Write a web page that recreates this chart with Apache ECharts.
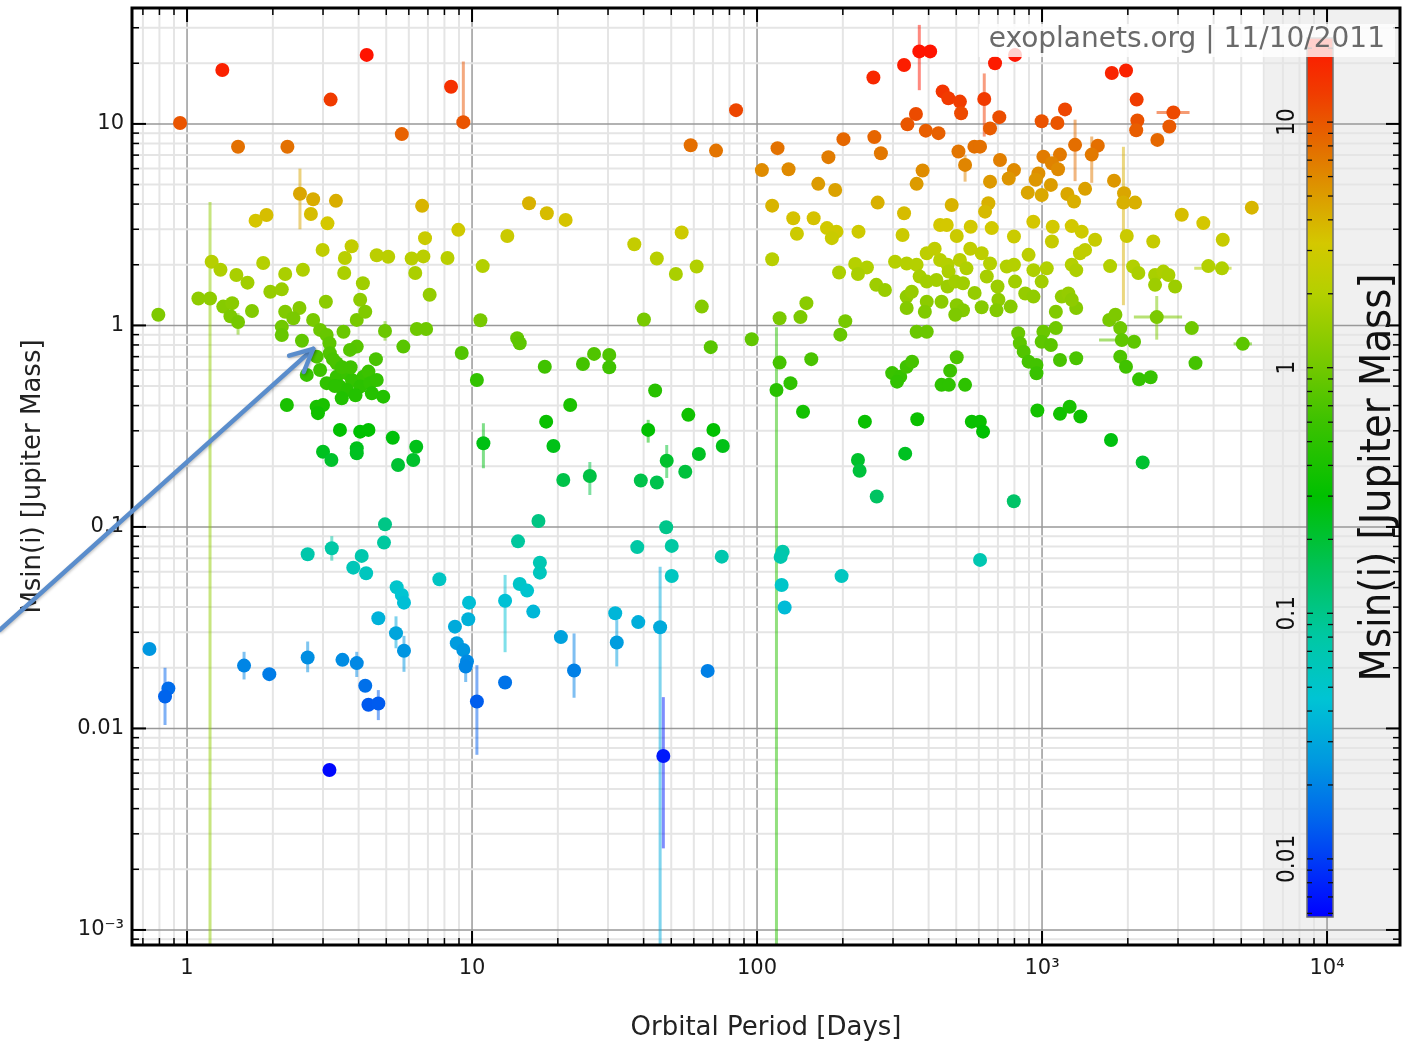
<!DOCTYPE html>
<html>
<head>
<meta charset="utf-8">
<script src="https://cdn.jsdelivr.net/npm/echarts@6/dist/echarts.min.js"></script>
<style>
html,body{margin:0;padding:0;background:#ffffff;}
#chart{width:1403px;height:1052px;}
</style>
</head>
<body>
<div id="chart"></div>
<script>
// ---------------- DATA (period in days, Msin(i) in Jupiter masses) ----------------
const planetsShort = [
[0.945,10.1],[1.33,18.5],[4.27,22],[3.19,13.2],[5.67,8.9],[1.51,7.7],[2.25,7.7],[8.44,15.3],[9.32,10.2],
[2.49,4.5],[2.77,4.23],[3.33,4.15],[2.72,3.57],[3.11,3.21],[1.74,3.31],[1.9,3.53],[6.68,3.92],[8.95,2.98],[8.2,2.16],[6.84,2.71],[7.1,1.42],[9.2,0.73],
[0.793,1.13],[1.096,1.36],[1.204,1.36],[1.22,2.07],[1.31,1.89],[1.49,1.78],[1.63,1.63],[1.85,2.04],[2.21,1.8],[2.55,1.89],[1.96,1.47],[2.15,1.51],[1.34,1.24],[1.44,1.29],[1.42,1.11],[1.51,1.04],[1.69,1.18],[2.21,1.17],[2.48,1.22],[2.36,1.085],[2.15,0.986],[2.15,0.897],[2.77,1.065],[3.07,1.31],[2.53,0.84],[2.93,0.95],[3.09,0.897],[3.16,0.816],[2.85,0.70],[3.17,0.728],[3.35,0.649],[3.54,0.93],[3.94,1.065],[4.05,1.34],[4.14,1.62],[4.22,1.17],[3.94,0.785],[3.73,0.756],[3.58,2.16],[3.56,1.82],
[2.63,0.568],[3.09,0.517],[2.93,0.601],[3.35,0.557],[3.64,0.579],[3.79,0.536],[3.44,0.497],[3.64,0.478],[3.49,0.435],[4.16,0.557],[4.33,0.59],[4.05,0.497],[4.39,0.516],[4.63,0.536],[4.45,0.461],[4.6,0.68],[4.95,0.939],[5.74,0.785],[4.88,0.443],[6.4,0.96],[6.9,0.96],
[3.25,0.68],[3.5,0.62],[3.3,0.5],[3.9,0.45],[3.75,0.62],
[2.24,0.403],[2.85,0.395],[3.0,0.403],[2.88,0.367],[3.44,0.303],[4.05,0.297],[4.33,0.303],[5.27,0.277],[3.0,0.236],[3.21,0.215],[3.94,0.246],[3.94,0.232],[5.5,0.203],[6.37,0.25],[6.22,0.215],
[4.63,2.23],[5.08,2.19],[6.14,2.15],[6.75,2.2],[6.32,1.82],[3.78,2.47],[2.99,2.37],
[7.68,0.055],[9.76,0.0421],[9.7,0.0348],[8.71,0.032],[8.84,0.0265],[9.32,0.0245],[9.6,0.0215],[9.5,0.0203],
[0.738,0.0248],[0.86,0.0158],[0.837,0.0144],[1.585,0.0205],[1.944,0.0186],[2.65,0.0225],[3.51,0.0219],[3.94,0.0211],[4.22,0.0163],[4.33,0.0131],[4.69,0.0133],[3.16,0.00622],
[2.65,0.0732],[3.22,0.0784],[4.95,0.103],[4.91,0.0836],[4.1,0.0718],[3.83,0.0628],[4.25,0.0589],[5.44,0.0502],[5.67,0.046],[5.77,0.0421],[4.69,0.0352],[5.41,0.0297],[5.77,0.0243]
];

const planetsMid = [
[10.9,1.97],[10.7,1.06],[15.85,4.04],[18.3,3.6],[21.3,3.34],[13.3,2.78],[37.1,2.53],[44.5,2.15],[54.4,2.89],[51.9,1.8],[61.4,1.96],[64,1.24],[40.1,1.07],[58.5,7.84],[71.8,7.37],[84.4,11.7],
[10.4,0.536],[14.4,0.864],[14.7,0.816],[18.0,0.624],[24.5,0.644],[26.8,0.722],[30.3,0.714],[30.3,0.62],[22.1,0.403],[18.2,0.333],[19.3,0.252],[10.96,0.26],[20.9,0.171],[25.9,0.179],[43.9,0.475],[41.5,0.303],[57.4,0.36],[70.3,0.303],[75.8,0.252],[62.5,0.23],[48.2,0.213],[56.0,0.188],[39.1,0.17],[44.5,0.166],[68.8,0.78],[95.8,0.854],
[17.1,0.107],[14.5,0.0848],[48.0,0.0997],[38.0,0.0794],[50.2,0.0805],[75.2,0.0712],[17.3,0.0593],[17.3,0.0665],[14.7,0.0521],[15.6,0.0483],[16.4,0.038],
[10.4,0.0136],[13.06,0.043],[13.06,0.0169],[20.5,0.0284],[22.8,0.0194],[31.8,0.0373],[32.2,0.0267],[38.3,0.0337],[45.7,0.0318],[46.9,0.0073],[50.2,0.0571],[67.1,0.0193]
];

const planetsLong = [
[104,5.9],[256,17.0],[328,19.6],[371,22.9],[405,22.9],[684,20],[804,22],
[448,14.5],[469,13.4],[515,12.9],[520,11.3],[627,13.3],[708,10.8],[657,9.5],[361,11.2],[337,9.95],[391,9.26],[433,9.0],
[201,8.4],[258,8.6],[272,7.15],[118,7.58],[129,5.96],[178,6.84],[164,5.04],[188,4.7],[113,3.93],[134,3.4],[158,3.4],[138,2.85],[176,3.04],[190,2.92],[183,2.71],[227,2.92],[265,4.07],[363,5.04],[381,5.87],[328,3.6],[324,2.81],
[509,7.29],[537,6.26],[579,7.71],[606,7.71],[482,3.96],[439,3.15],[463,3.15],[657,5.17],[648,4.04],[712,6.62],[631,3.67],[562,3.09],[666,3.04],[502,2.78],
[1757,17.9],[1971,18.4],[2148,13.2],[1204,11.8],[997,10.3],[1132,10.1],[2160,10.4],[2140,9.3],[2890,11.4],[2797,9.7],[2539,8.33],
[1306,7.87],[1569,7.8],[1494,7.04],[1011,6.88],[1156,7.04],[1083,6.38],[1138,5.96],[797,5.9],[764,5.36],[971,5.68],[950,5.28],[1074,4.98],[891,4.56],[997,4.44],[1416,4.76],[1227,4.49],[1295,4.12],[1789,5.23],[1940,4.53],[1930,4.07],[2120,4.07],
[3092,3.54],[3681,3.22],[5445,3.84],[4306,2.66],[2456,2.61],[1983,2.78],[1535,2.66],[1271,3.11],[1378,2.92],[1090,3.09],[932,3.27],[1083,2.61],[797,2.76],
[113,2.13],[194,1.83],[221,2.02],[243,1.94],[226,1.8],[262,1.59],[281,1.5],[305,2.07],[335,2.03],[363,2.0],[394,2.28],[439,2.11],[466,2.0],[515,2.11],[543,1.92],[614,2.28],[657,2.03],[752,1.96],
[420,2.4],[560,2.4],[470,1.85],[580,1.45],[640,1.75],
[372,1.75],[394,1.65],[426,1.68],[466,1.56],[496,1.65],[528,1.62],[335,1.39],[349,1.47],[335,1.22],[394,1.31],[388,1.17],[444,1.31],[502,1.26],[528,1.19],[496,1.13],[614,1.23],[703,1.34],[692,1.19],[698,1.56],
[120,1.086],[142,1.1],[149,1.29],[204,1.05],[196,0.90],[363,0.93],[394,0.93],
[120,0.654],[131,0.517],[117,0.478],[155,0.68],[145,0.373],[239,0.333],[226,0.215],[229,0.19],
[298,0.58],[318,0.557],[335,0.624],[350,0.661],[310,0.526],[365,0.342],[331,0.231],[444,0.507],[471,0.507],[476,0.596],[502,0.695],[537,0.507],[567,0.333],[605,0.333],[621,0.297],
[776,1.24],[797,2.0],[897,2.24],[933,1.88],[1039,1.92],[804,1.65],[873,1.44],[933,1.39],[997,1.65],[1271,2.0],[1318,1.88],[1358,2.28],[1416,2.37],[1733,1.97],[2087,1.96],[2177,1.82],[2492,1.78],[2665,1.85],[2777,1.78],[2492,1.59],[2930,1.56],[3833,1.97],[4279,1.92],
[1173,1.39],[1237,1.44],[1318,1.22],[1118,1.17],[1271,1.34],[1721,1.065],[1809,1.13],[2526,1.1],[3352,0.97],
[825,0.915],[836,0.816],[862,0.741],[1011,0.93],[1118,0.97],[997,0.83],[1074,0.8],[897,0.661],[956,0.636],[956,0.579],[1156,0.674],[1318,0.687],[1881,0.97],[1905,0.847],[1881,0.70],[1970,0.624],[2103,0.83],[2190,0.54],[2405,0.553],[3455,0.65],[5063,0.81],
[963,0.378],[1156,0.364],[1250,0.395],[1363,0.353],[1746,0.27],[2255,0.209],
[263,0.1417],[796,0.134],[123,0.0754],[121,0.071],[122,0.0515],[125,0.0398],[198,0.057],[606,0.0686]
];

// vertical (mass) error bars: [period, mass, lowMass, highMass]
const massErrorBars = [
[9.32,10.2,9.5,20.4],[2.49,4.5,3.0,6.0],[1.204,1.36,0.0001,4.1],[1.51,1.04,0.9,1.15],[4.95,0.939,0.84,1.05],
[10.96,0.26,0.1955,0.327],[25.9,0.179,0.144,0.21],[41.5,0.303,0.262,0.34],[48.2,0.213,0.175,0.255],
[10.4,0.0136,0.0074,0.0206],[13.06,0.043,0.0239,0.0578],[22.8,0.0194,0.0142,0.0296],[32.2,0.0267,0.0203,0.0345],[45.7,0.0318,0.0001,0.0635],[46.9,0.0073,0.00254,0.0143],
[0.837,0.0144,0.0104,0.02],[5.77,0.0243,0.0191,0.0288],[3.22,0.0784,0.068,0.09],[9.5,0.0203,0.017,0.024],[2.65,0.0225,0.019,0.027],[1.585,0.0205,0.0175,0.024],[3.94,0.0211,0.018,0.024],[4.69,0.0133,0.011,0.0155],[5.41,0.0297,0.025,0.036],
[371,22.9,14.7,31],[627,13.3,8.65,17.8],[537,6.26,5.17,7.0],[1306,7.87,5.2,10.5],[1494,7.04,5.1,8.66],[1930,4.07,1.26,7.7],[117,0.478,0.0001,0.98],[2526,1.1,0.85,1.4]
];
// horizontal (period) error bars: [period, mass, lowPeriod, highPeriod]
const periodErrorBars = [[2890,11.4,2523,3293],[2526,1.1,2100,3100],[4279,1.92,3420,4625],[1905,0.847,1585,2185],[5063,0.81,4700,5450]];

// tick labels
const xTickExponents = [0,1,2,3,4];
const xTickLabels = ['1','10','100','10³','10⁴'];
const yTickExponents = [-3,-2,-1,0,1];
const yTickLabels = ['10⁻³','0.01','0.1','1','10'];
const cbTickExponents = [-2,-1,0,1];
const cbTickLabels = ['0.01','0.1','1','10'];

// colour scale (mass -> colour)
const colorStopsMass = [
[0.0058,'#0000ff'],[0.009,'#0030f8'],[0.015,'#0068ec'],[0.025,'#0098e0'],[0.045,'#00c4d4'],[0.08,'#00c8a4'],
[0.15,'#00c25a'],[0.3,'#00c000'],[0.6,'#3cc200'],[1.0,'#72c800'],[2.0,'#b4d000'],[3.2,'#d4c800'],
[5.0,'#dc9c00'],[8.0,'#e46c00'],[13,'#f03c00'],[22,'#ff1400']
];

// axis ranges
const X_MIN = 0.641, X_MAX = 18030, Y_MIN = 0.000842, Y_MAX = 37.6;
const CB_MIN = 0.0058, CB_MAX = 22;
const BAND_START = 6060;
const arrowFrom = [0.22, 0.0308];
const arrowTo = [2.77, 0.765];

// ---------------- helpers ----------------
const FONT = "'DejaVu Sans', sans-serif";
const FONT_C = "'DejaVu Sans Condensed', 'DejaVu Sans', sans-serif";
const lg = v => Math.log10(v);
function hexToRgb(h){return [parseInt(h.slice(1,3),16),parseInt(h.slice(3,5),16),parseInt(h.slice(5,7),16)];}
function massColor(m, alpha){
  const t = lg(m), s = colorStopsMass;
  let c;
  if (t <= lg(s[0][0])) c = hexToRgb(s[0][1]);
  else if (t >= lg(s[s.length-1][0])) c = hexToRgb(s[s.length-1][1]);
  else {
    for (let i=0;i<s.length-1;i++){
      const a = lg(s[i][0]), b = lg(s[i+1][0]);
      if (t >= a && t <= b){
        const f = (t-a)/(b-a), c1 = hexToRgb(s[i][1]), c2 = hexToRgb(s[i+1][1]);
        c = c1.map((v,k)=>Math.round(v+(c2[k]-v)*f));
        break;
      }
    }
  }
  return alpha == null ? 'rgb('+c.join(',')+')' : 'rgba('+c.join(',')+','+alpha+')';
}
const cbGradient = {
  type:'linear', x:0, y:0, x2:0, y2:1,
  colorStops: colorStopsMass.map(([m,c]) => ({offset: 1-(lg(m)-lg(CB_MIN))/(lg(CB_MAX)-lg(CB_MIN)), color:c})).reverse()
};
function logTicks(lo, hi){
  const out = [];
  for (let e=Math.floor(lg(lo)); e<=Math.ceil(lg(hi)); e++){
    for (let k=1;k<=9;k++){
      const v = k*Math.pow(10,e);
      if (v > lo*1.0001 && v < hi/1.0001) out.push([v, k===1?1:0]);
    }
  }
  return out;
}
function powerLabel(exps, labels){
  return function(v){
    const e = lg(v), r = Math.round(e);
    if (Math.abs(e-r) > 1e-6) return '';
    const i = exps.indexOf(r);
    return i < 0 ? '' : labels[i];
  };
}
const xTickData = logTicks(X_MIN, X_MAX).map(([v,m]) => [v, 1, m]);
const yTickData = logTicks(Y_MIN, Y_MAX).map(([v,m]) => [1, v, m]);
const cbTickData = logTicks(CB_MIN, CB_MAX).map(([v,m]) => [0.5, v, m]);
const allPlanets = planetsShort.concat(planetsMid, planetsLong);

// ---------------- chart ----------------
const chart = echarts.init(document.getElementById('chart'), null, {renderer:'canvas'});
const option = {
  animation:false,
  backgroundColor:'#ffffff',
  title:{
    text:'exoplanets.org | 11/10/2011', right:8, top:24, padding:[2,10,3,10],
    backgroundColor:'rgba(255,255,255,0.8)',
    textStyle:{fontSize:28, fontWeight:'normal', color:'#6a6a6a', fontFamily:FONT},
    z:60
  },
  grid:[
    {left:132, top:8, width:1268, height:937, show:true, backgroundColor:'transparent', borderColor:'#000', borderWidth:3, z:6},
    {left:1307, top:38, width:26, height:879, show:true, backgroundColor:cbGradient, borderColor:'#6e6e6e', borderWidth:1.5, z:7}
  ],
  xAxis:[
    {gridIndex:0, type:'log', logBase:10, min:X_MIN, max:X_MAX,
     axisLine:{show:false}, axisTick:{show:false}, splitLine:{show:false},
     axisLabel:{fontSize:21, color:'#1a1a1a', margin:13, fontFamily:FONT, formatter:powerLabel(xTickExponents, xTickLabels)},
     name:'Orbital Period [Days]', nameLocation:'middle', nameGap:70,
     nameTextStyle:{fontSize:26, color:'#222', fontFamily:FONT}},
    {gridIndex:1, type:'value', min:0, max:1, show:false}
  ],
  yAxis:[
    {gridIndex:0, type:'log', logBase:10, min:Y_MIN, max:Y_MAX,
     axisLine:{show:false}, axisTick:{show:false}, splitLine:{show:false},
     axisLabel:{fontSize:21, color:'#1a1a1a', margin:8, fontFamily:FONT, formatter:powerLabel(yTickExponents, yTickLabels)},
     name:'Msin(i) [Jupiter Mass]', nameLocation:'middle', nameGap:86,
     nameTextStyle:{fontSize:26, color:'#222', fontFamily:FONT}},
    {gridIndex:1, type:'log', logBase:10, min:CB_MIN, max:CB_MAX, position:'left', z:8,
     axisLine:{show:false}, axisTick:{show:false}, splitLine:{show:false},
     axisLabel:{rotate:90, margin:7, fontSize:24, color:'#111', fontFamily:FONT_C, formatter:powerLabel(cbTickExponents, cbTickLabels)}},
    {gridIndex:1, type:'log', logBase:10, min:CB_MIN, max:CB_MAX, position:'right', z:8,
     axisLine:{show:false}, axisTick:{show:false}, splitLine:{show:false}, axisLabel:{show:false},
     name:'Msin(i) [Jupiter Mass]', nameLocation:'middle', nameGap:24,
     nameTextStyle:{fontSize:43, color:'#111', fontFamily:FONT_C}}
  ],
  series:[
    // vertical grid lines
    {type:'custom', name:'gridX', xAxisIndex:0, yAxisIndex:0, z:1, silent:true, data:xTickData, encode:{x:0,y:1},
     renderItem:function(p, api){
       const cs = p.coordSys, major = api.value(2) === 1;
       const x = api.coord([api.value(0), 1])[0];
       return {type:'line', shape:{x1:x, y1:cs.y, x2:x, y2:cs.y+cs.height},
               style:{stroke: major ? '#999999' : '#e5e5e5', lineWidth: major ? 1.5 : 2}};
     }},
    // horizontal grid lines
    {type:'custom', name:'gridY', xAxisIndex:0, yAxisIndex:0, z:1, silent:true, data:yTickData, encode:{x:0,y:1},
     renderItem:function(p, api){
       const cs = p.coordSys, major = api.value(2) === 1;
       const y = api.coord([1, api.value(1)])[1];
       return {type:'line', shape:{x1:cs.x, y1:y, x2:cs.x+cs.width, y2:y},
               style:{stroke: major ? '#999999' : '#e5e5e5', lineWidth: major ? 1.5 : 2}};
     }},
    // grey band behind the colour bar
    {type:'line', name:'band', xAxisIndex:0, yAxisIndex:0, z:2, silent:true, data:[],
     markArea:{silent:true, itemStyle:{color:'rgba(238,238,238,0.9)'}, data:[[{xAxis:BAND_START},{xAxis:X_MAX}]]}},
    // vertical error bars
    {type:'custom', name:'errMass', xAxisIndex:0, yAxisIndex:0, z:3, silent:true, data:massErrorBars, encode:{x:0,y:1},
     renderItem:function(p, api){
       const cs = p.coordSys;
       const a = api.coord([api.value(0), api.value(2)]);
       const b = api.coord([api.value(0), api.value(3)]);
       const clampY = y => Math.min(Math.max(y, cs.y), cs.y+cs.height);
       return {type:'line', shape:{x1:a[0], y1:clampY(a[1]), x2:b[0], y2:clampY(b[1])},
               style:{stroke: massColor(api.value(1), 0.5), lineWidth:3}};
     }},
    // horizontal error bars
    {type:'custom', name:'errPeriod', xAxisIndex:0, yAxisIndex:0, z:3, silent:true, data:periodErrorBars, encode:{x:0,y:1},
     renderItem:function(p, api){
       const a = api.coord([api.value(2), api.value(1)]);
       const b = api.coord([api.value(3), api.value(1)]);
       return {type:'line', shape:{x1:a[0], y1:a[1], x2:b[0], y2:b[1]},
               style:{stroke: massColor(api.value(1), 0.55), lineWidth:3}};
     }},
    // planets
    {type:'scatter', name:'planets', xAxisIndex:0, yAxisIndex:0, z:4, silent:true, data:allPlanets,
     symbol:'circle', symbolSize:14,
     itemStyle:{color:function(p){return massColor(p.data[1]);}, opacity:1}},
    // axis ticks on all four sides of the main frame
    {type:'custom', name:'ticksX', xAxisIndex:0, yAxisIndex:0, z:5, silent:true, data:xTickData, encode:{x:0,y:1},
     renderItem:function(p, api){
       const cs = p.coordSys, major = api.value(2) === 1;
       const x = api.coord([api.value(0), 1])[0];
       const L = major ? 14 : 7, w = major ? 2 : 1.5;
       const top = cs.y, bot = cs.y + cs.height;
       return {type:'group', children:[
         {type:'line', shape:{x1:x, y1:bot, x2:x, y2:bot-L}, style:{stroke:'#000', lineWidth:w}},
         {type:'line', shape:{x1:x, y1:top, x2:x, y2:top+L}, style:{stroke:'#000', lineWidth:w}}
       ]};
     }},
    {type:'custom', name:'ticksY', xAxisIndex:0, yAxisIndex:0, z:5, silent:true, data:yTickData, encode:{x:0,y:1},
     renderItem:function(p, api){
       const cs = p.coordSys, major = api.value(2) === 1;
       const y = api.coord([1, api.value(1)])[1];
       const L = major ? 14 : 7, w = major ? 2 : 1.5;
       const left = cs.x, right = cs.x + cs.width;
       return {type:'group', children:[
         {type:'line', shape:{x1:left, y1:y, x2:left+L, y2:y}, style:{stroke:'#000', lineWidth:w}},
         {type:'line', shape:{x1:right, y1:y, x2:right-L, y2:y}, style:{stroke:'#000', lineWidth:w}}
       ]};
     }},
    // colour bar ticks
    {type:'custom', name:'cbTicks', xAxisIndex:1, yAxisIndex:1, z:9, silent:true, data:cbTickData, encode:{x:0,y:1},
     renderItem:function(p, api){
       const cs = p.coordSys, major = api.value(2) === 1;
       const y = api.coord([0.5, api.value(1)])[1];
       const L = major ? 6 : 5;
       return {type:'group', children:[
         {type:'line', shape:{x1:cs.x, y1:y, x2:cs.x+L, y2:y}, style:{stroke:'#111', lineWidth:1.3}},
         {type:'line', shape:{x1:cs.x+cs.width, y1:y, x2:cs.x+cs.width-L, y2:y}, style:{stroke:'#111', lineWidth:1.3}}
       ]};
     }}
  ]
};
chart.setOption(option);

// annotation arrow (positions given in data space, converted through the axes)
const tail = chart.convertToPixel({gridIndex:0}, arrowFrom);
const tip = chart.convertToPixel({gridIndex:0}, arrowTo);
const dx = tail[0]-tip[0], dy = tail[1]-tip[1], dl = Math.sqrt(dx*dx+dy*dy);
const ux = dx/dl, uy = dy/dl, ang = 26*Math.PI/180, HL = 25;
function rot(x, y, a){return [x*Math.cos(a)-y*Math.sin(a), x*Math.sin(a)+y*Math.cos(a)];}
const r1 = rot(ux, uy, ang), r2 = rot(ux, uy, -ang);
const arrowColor = '#5a8dcc';
chart.setOption({graphic:[
  {type:'line', silent:true, z:50, shape:{x1:tail[0], y1:tail[1], x2:tip[0], y2:tip[1]},
   style:{stroke:arrowColor, lineWidth:4.5, lineCap:'round', shadowBlur:3, shadowColor:'rgba(0,0,0,0.25)', shadowOffsetX:1, shadowOffsetY:1}},
  {type:'polyline', silent:true, z:50,
   shape:{points:[[tip[0]+r1[0]*HL, tip[1]+r1[1]*HL],[tip[0], tip[1]],[tip[0]+r2[0]*HL, tip[1]+r2[1]*HL]]},
   style:{stroke:arrowColor, fill:null, lineWidth:4.5, lineCap:'round', lineJoin:'round', shadowBlur:3, shadowColor:'rgba(0,0,0,0.25)', shadowOffsetX:1, shadowOffsetY:1}}
]});
</script>
</body>
</html>
